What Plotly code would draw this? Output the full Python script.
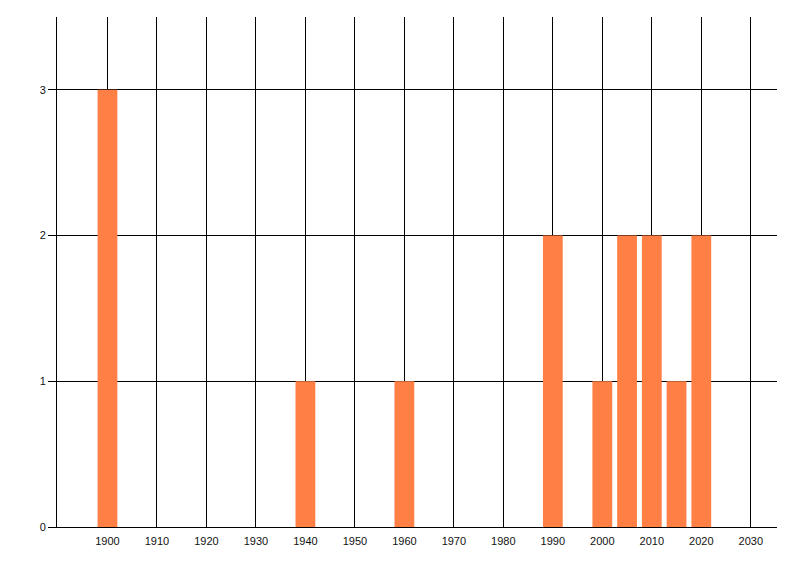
import plotly.graph_objects as go

years = [1900, 1940, 1960, 1990, 2000, 2005, 2010, 2015, 2020]
counts = [3, 1, 1, 2, 1, 2, 2, 1, 2]
x_ticks = [1900, 1910, 1920, 1930, 1940, 1950, 1960, 1970, 1980, 1990, 2000, 2010, 2020, 2030]
y_ticks = [0, 1, 2, 3]

fig = go.Figure(go.Bar(x=years, y=counts, width=4, marker=dict(color="#FF7F45", line=dict(width=0))))

fig.update_layout(
    width=792, height=568,
    margin=dict(l=49, r=23, t=9, b=49),
    paper_bgcolor="white", plot_bgcolor="white",
    showlegend=False,
    font=dict(family="Liberation Sans", size=11, color="#111111"),
    xaxis=dict(range=[1889.8, 2035.3], tickvals=x_ticks, ticktext=[str(v) for v in x_ticks],
               showgrid=True, gridcolor="black", gridwidth=1,
               showline=True, linecolor="black", linewidth=1,
               ticks="", zeroline=False, ticklabelstandoff=4),
    yaxis=dict(range=[0, 3.5], tickvals=y_ticks, showgrid=True, gridcolor="black", gridwidth=1,
               showline=True, linecolor="black", linewidth=1,
               ticks="outside", ticklen=8, tickcolor="black", zeroline=False),
)

fig.write_html("out.html")
